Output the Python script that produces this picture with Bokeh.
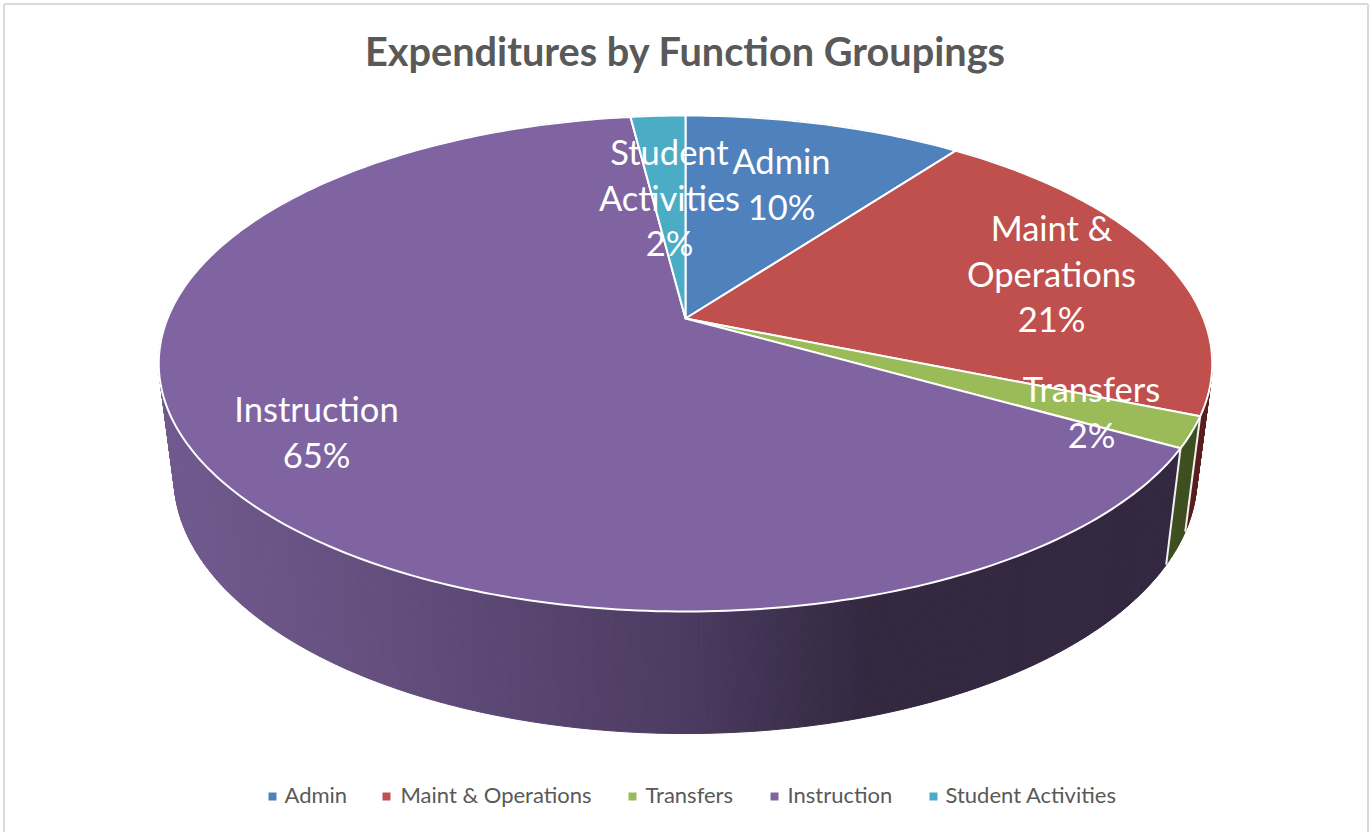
import math
from bokeh.plotting import figure
from bokeh.models import Range1d
from bokeh.core.properties import value
from bokeh.embed import file_html
from bokeh.resources import INLINE

title = "Expenditures by Function Groupings"
categories = ["Admin", "Maint & Operations", "Transfers", "Instruction", "Student Activities"]
shares = [10.2, 21.0, 2.0, 64.8, 2.0]
colors = ["#4f81bd", "#c0504d", "#9bbb59", "#8064a2", "#4bacc6"]
wall_colors = ["#2f4d72", "#5a1f1e", "#3f4f20", None, "#2d6877"]
label_lines = [["Admin", "10%"], ["Maint &", "Operations", "21%"], ["Transfers", "2%"],
               ["Instruction", "65%"], ["Student", "Activities", "2%"]]
label_centers = [(781, 160), (1051, 227), (1091, 388), (316, 408), (669, 151)]
legend_swatch_x = [272, 386, 632, 774, 933]
legend_text_x = [284, 400, 645, 787, 945]

W, H = 1371, 832
p = figure(width=W, height=H, output_backend="svg", toolbar_location=None,
           x_range=Range1d(0, W), y_range=Range1d(H, 0), min_border=0,
           outline_line_color=None, background_fill_color="white")
p.axis.visible = False
p.grid.visible = False

CX, K = 685.0, -0.1815
TOP = dict(a=518.0, c=182.1, d=318.0)
BOT = dict(a=503.0, c=170.0, d=430.0)

def proj(pct, g):
    t = 2 * math.pi * pct / 100
    X, Y = math.sin(t), -math.cos(t)
    w = 1 + K * Y
    return CX + g["a"] * X / w, (g["d"] + g["c"] * Y) / w

def wall_shade(x):
    stops = [(170, (0x70, 0x5a, 0x8e)), (400, (0x62, 0x4d, 0x7c)), (680, (0x4c, 0x3b, 0x62)),
             (870, (0x33, 0x28, 0x40)), (1400, (0x33, 0x28, 0x40))]
    for (x0, c0), (x1, c1) in zip(stops, stops[1:]):
        if x <= x1:
            f = max(0, (x - x0) / (x1 - x0))
            return "#%02x%02x%02x" % tuple(round(a + (b - a) * f) for a, b in zip(c0, c1))
    return "#332840"

# frame
p.multi_line([[3.5, 1367.5], [3.5, 3.5], [1367.5, 1367.5]], [[3.5, 3.5], [3.5, H], [3.5, H]],
             line_color="#d9d9d9", line_width=2)

edges = [0.0]
for s in shares:
    edges.append(edges[-1] + s)

# walls
for i, s in enumerate(shares):
    n = max(2, int(s * 8))
    for j in range(n):
        a = edges[i] + s * j / n
        b = edges[i] + s * (j + 1) / n
        ta, tb = proj(a, TOP), proj(b, TOP)
        ba, bb = proj(a, BOT), proj(b, BOT)
        col = wall_colors[i] or wall_shade((ta[0] + tb[0]) / 2)
        p.patch([ta[0], tb[0], bb[0], ba[0]], [ta[1], tb[1], bb[1], ba[1]],
                fill_color=col, line_color=col, line_width=1)

# wall edges that face the viewer
for e in edges[1:4]:
    t0, b0 = proj(e, TOP), proj(e, BOT)
    if t0[1] > 400:
        p.line([t0[0], b0[0]], [t0[1], b0[1]], line_color="#f2f2f2", line_width=2)

# top faces
for i, s in enumerate(shares):
    n = max(4, int(s * 4))
    pts = [proj(edges[i] + s * j / n, TOP) for j in range(n + 1)]
    xs = [CX] + [q[0] for q in pts]
    ys = [318.0] + [q[1] for q in pts]
    p.patch(xs, ys, fill_color=colors[i], line_color="white", line_width=2, line_join="round")

# data labels
LH = 45.5
for lines, (lx, ly) in zip(label_lines, label_centers):
    p.text([lx] * len(lines), [ly + LH * k for k in range(len(lines))], text=lines,
           text_color="white", text_font=value("Lato"), text_font_size="34.5px",
           text_align="center", text_baseline="middle")

# title
p.text([685], [50], text=[title], text_color="#595959", text_font=value("Lato"),
       text_font_style="bold", text_font_size="39.7px", text_align="center", text_baseline="middle")

# legend
for sx, tx, c, name in zip(legend_swatch_x, legend_text_x, colors, categories):
    p.scatter([sx], [796], marker="square", size=8, fill_color=c, line_color=None)
    p.text([tx], [794], text=[name], text_color="#595959", text_font=value("Lato"),
           text_font_size="22px", text_align="left", text_baseline="middle")

open("out.html", "w").write(file_html(p, INLINE))
